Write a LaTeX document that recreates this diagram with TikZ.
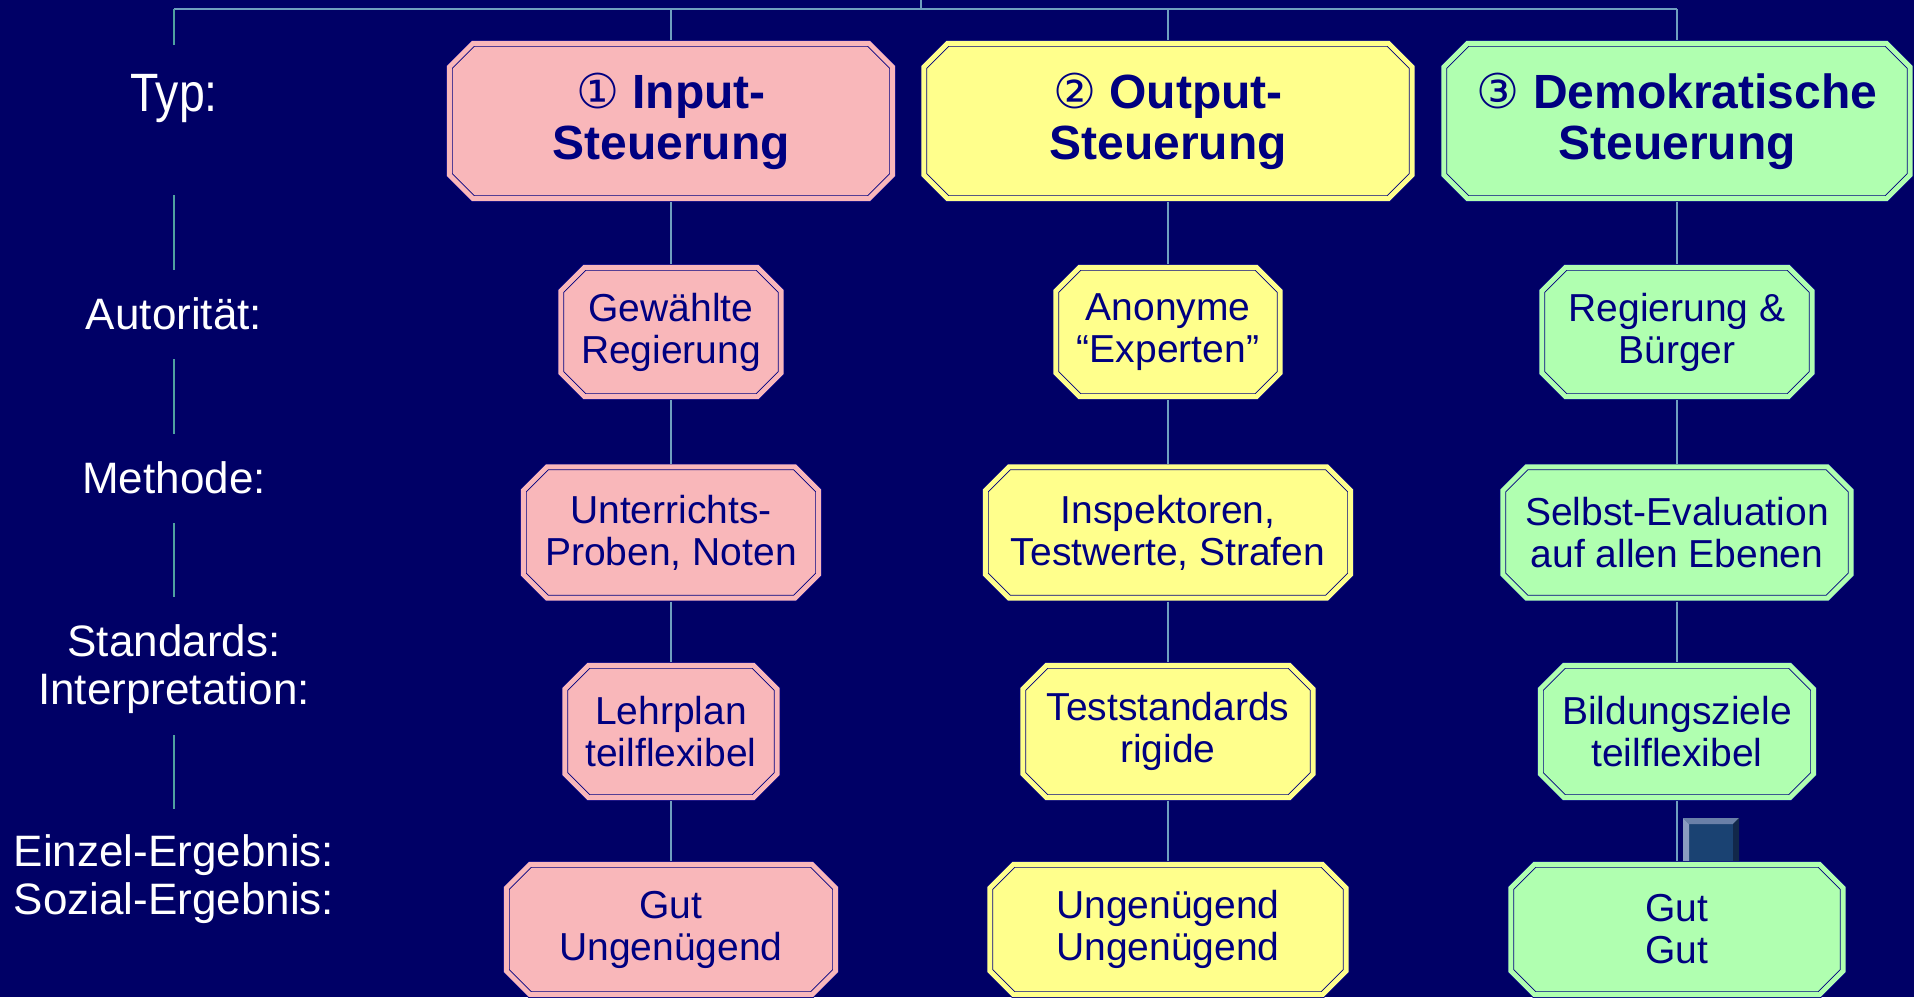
\documentclass[tikz,border=0pt]{standalone}
\usepackage{fontspec}
\usepackage{graphicx}
\setmainfont{Liberation Sans}
\newfontfamily\circfont{DejaVu Sans}
\usetikzlibrary{calc}
\definecolor{bgnavy}{HTML}{000066}
\definecolor{inknavy}{HTML}{000080}
\definecolor{boxpink}{HTML}{F9B7BA}
\definecolor{boxyellow}{HTML}{FFFF8C}
\definecolor{boxgreen}{HTML}{B0FFB0}
\definecolor{linkblue}{HTML}{6F9FBF}
\definecolor{linkteal}{HTML}{4FA0A0}
\definecolor{btnface}{HTML}{1A4272}
\definecolor{btnlight}{HTML}{8A9CC0}
\definecolor{btntop}{HTML}{6A80A8}
\definecolor{btndark}{HTML}{12284A}
\tikzset{octBox/.style={rectangle, inner sep = 0pt, outer sep = 0pt, align = center, text = inknavy, font = \fontsize{39}{42}\selectfont,
  path picture = {\draw[inknavy, line width = 0.8pt, double = #1, double distance = 5pt, fill = #1]
    ($(path picture bounding box.north west)+(27,3.4)$) -- ($(path picture bounding box.north east)+(-27,3.4)$) --
    ($(path picture bounding box.north east)+(-3.4,27)$) -- ($(path picture bounding box.south east)+(-3.4,-27)$) --
    ($(path picture bounding box.south east)+(-27,-3.4)$) -- ($(path picture bounding box.south west)+(27,-3.4)$) --
    ($(path picture bounding box.south west)+(3.4,-27)$) -- ($(path picture bounding box.north west)+(3.4,27)$) -- cycle;}}}
\tikzset{headBox/.style={octBox = #1, font = \fontsize{48}{51}\selectfont\bfseries}}
\tikzstyle{rowLabel}=[text = white, align = center, font = \fontsize{44}{48}\selectfont]
\tikzstyle{link}=[draw = linkblue, line width = 1.5pt]
\tikzstyle{labelLink}=[draw = linkteal, line width = 1.5pt]

\begin{document}
\begin{tikzpicture}[x = 1pt, y = -1pt]
\fill[bgnavy] (0,0) rectangle (1914,997);
\useasboundingbox (0,0) rectangle (1914,997);
% row labels
\node[rowLabel, anchor = base] (typ) at (174,111) {\fontsize{54}{58}\selectfont\scalebox{0.86}[1]{Typ:}};
\node[rowLabel, anchor = base] (aut) at (174,329) {Autorität:};
\node[rowLabel, anchor = base] (meth) at (174,493) {Methode:};
\node[rowLabel] (std) at (174,669.5) {Standards:\\Interpretation:};
\node[rowLabel] (erg) at (174,879.5) {Einzel-Ergebnis:\\Sozial-Ergebnis:};
\foreach \a/\b [count = \i] in {195/270, 359/434, 523/597, 735/809}{
  \coordinate (ls\i) at (174,\a);
  \coordinate (le\i) at (174,\b);
  \draw[labelLink] (ls\i) -- (le\i);
}
% button behind the last green box
\fill[btnface] (1683,818) rectangle (1739,866);
\fill[btnlight] (1683,818) -- (1689,824) -- (1689,866) -- (1683,866) -- cycle;
\fill[btntop] (1683,818) -- (1739,818) -- (1733,824) -- (1689,824) -- cycle;
\fill[btndark] (1739,818) -- (1739,866) -- (1733,866) -- (1733,824) -- cycle;
% input column
\node[headBox = boxpink, minimum width = 450pt, minimum height = 162pt] (inp1) at (671,121) {{\circfont\mdseries ①} Input-\\Steuerung};
\node[octBox = boxpink, minimum width = 227pt, minimum height = 136pt] (inp2) at (671,332) {Gewählte\\Regierung};
\node[octBox = boxpink, minimum width = 302pt, minimum height = 138pt] (inp3) at (671,532.5) {Unterrichts-\\Proben, Noten};
\node[octBox = boxpink, minimum width = 219pt, minimum height = 139pt] (inp4) at (671,731.5) {Lehrplan\\teilflexibel};
\node[octBox = boxpink, minimum width = 336pt, minimum height = 137pt] (inp5) at (671,929.5) {Gut\\Ungenügend};
% output column
\node[headBox = boxyellow, minimum width = 495pt, minimum height = 162pt] (outp1) at (1168,121) {{\circfont\mdseries ②} Output-\\Steuerung};
\node[octBox = boxyellow, minimum width = 231pt, minimum height = 136pt] (outp2) at (1168,332) {Anonyme\\“Experten”};
\node[octBox = boxyellow, minimum width = 372pt, minimum height = 138pt] (outp3) at (1168,532.5) {Inspektoren,\\Testwerte, Strafen};
\node[octBox = boxyellow, minimum width = 297pt, minimum height = 139pt] (outp4) at (1168,731.5) {Teststandards\\rigide};
\node[octBox = boxyellow, minimum width = 363pt, minimum height = 137pt] (outp5) at (1168,929.5) {Ungenügend\\Ungenügend};
% democratic column
\node[headBox = boxgreen, minimum width = 473pt, minimum height = 162pt] (demo1) at (1677,121) {{\circfont\mdseries ③} Demokratische\\Steuerung};
\node[octBox = boxgreen, minimum width = 277pt, minimum height = 136pt] (demo2) at (1677,332) {Regierung \&\\Bürger};
\node[octBox = boxgreen, minimum width = 355pt, minimum height = 138pt] (demo3) at (1677,532.5) {Selbst-Evaluation\\auf allen Ebenen};
\node[octBox = boxgreen, minimum width = 280pt, minimum height = 139pt] (demo4) at (1677,731.5) {Bildungsziele\\teilflexibel};
\node[octBox = boxgreen, minimum width = 339pt, minimum height = 137pt] (demo5) at (1677,929.5) {Gut\\Gut};
% top bar
\coordinate (stub) at (921,0);
\coordinate (bar) at (921,9);
\coordinate (barL) at (174,9);
\coordinate (barR) at (1677,9);
\coordinate (typTop) at (174,45);
\draw[link] (stub) -- (bar);
\draw[link] (barL) -- (barR);
\draw[labelLink] (barL) -- (typTop);
\draw[link] (inp1.north |- barL) -- (inp1.north);
\draw[link] (outp1.north |- barL) -- (outp1.north);
\draw[link] (demo1.north |- barL) -- (demo1.north);
% column connectors
\foreach \c in {inp, outp, demo}{
  \draw[link] (\c1.south) -- (\c2.north);
  \draw[link] (\c2.south) -- (\c3.north);
  \draw[link] (\c3.south) -- (\c4.north);
  \draw[link] (\c4.south) -- (\c5.north);
}
\end{tikzpicture}
\end{document}
